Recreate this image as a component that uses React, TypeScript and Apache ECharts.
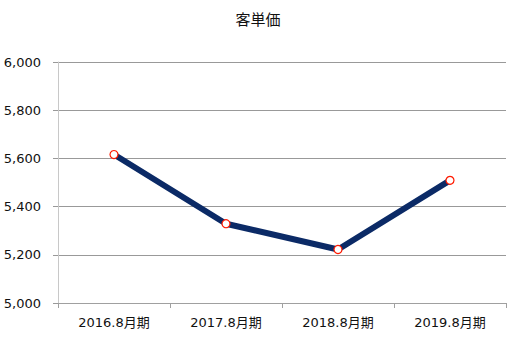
import React, { useEffect, useRef } from "react";
import * as echarts from "echarts";

const categories = ["2016.8月期", "2017.8月期", "2018.8月期", "2019.8月期"];
const values = [5616, 5329, 5222, 5509];
const yTicks = { min: 5000, max: 6000, interval: 200 };
const title = "客単価";

const FONT = "'DejaVu Sans', 'Noto Sans CJK JP', sans-serif";

export default function App() {
  const ref = useRef<HTMLDivElement>(null);
  useEffect(() => {
    if (!ref.current) return;
    const chart = echarts.init(ref.current, undefined, { renderer: "svg" });
    chart.setOption({
      animation: false,
      backgroundColor: "#ffffff",
      title: {
        text: title,
        left: 253,
        top: 6,
        textAlign: "center",
        textStyle: { fontFamily: "'Noto Sans CJK JP', sans-serif", fontSize: 15, fontWeight: "normal", color: "#111" },
      },
      grid: { left: 58, right: 23, top: 62, bottom: 38, containLabel: false },
      xAxis: {
        type: "category",
        data: categories,
        boundaryGap: true,
        axisLine: { show: true, lineStyle: { color: "#a0a0a0", width: 1 } },
        axisTick: { show: true, length: 5, lineStyle: { color: "#a0a0a0" } },
        axisLabel: { fontFamily: FONT, fontSize: 13, color: "#111", margin: 13 },
      },
      yAxis: {
        type: "value",
        min: yTicks.min,
        max: yTicks.max,
        interval: yTicks.interval,
        axisLine: { show: true, lineStyle: { color: "#c8c8c8", width: 1 } },
        axisTick: { show: true, length: 5, lineStyle: { color: "#999" } },
        splitLine: { show: true, lineStyle: { color: "#999999", width: 1 } },
        axisLabel: {
          fontFamily: FONT,
          fontSize: 13,
          color: "#111",
          margin: 17,
          formatter: (v: number) => v.toLocaleString("en-US"),
        },
      },
      series: [
        {
          type: "line",
          data: values,
          symbol: "circle",
          symbolSize: 8,
          lineStyle: { color: "#0b2a66", width: 6 },
          itemStyle: { color: "#ffffff", borderColor: "#ff1a00", borderWidth: 1.2 },
        },
      ],
    });
    return () => chart.dispose();
  }, []);
  return <div ref={ref} style={{ width: 529, height: 341, position: "absolute", left: 0, top: 0 }} />;
}
